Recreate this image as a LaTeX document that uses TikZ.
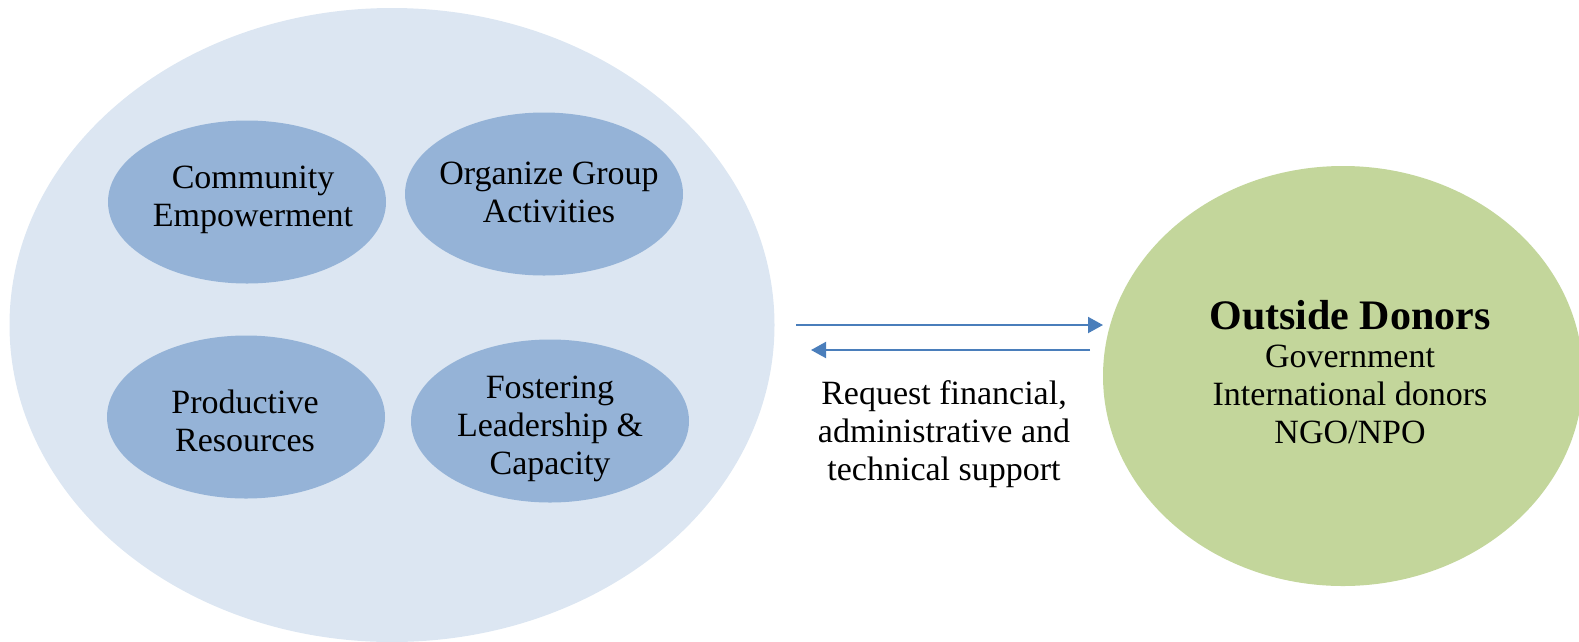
\documentclass[tikz,border=0pt]{standalone}
\usepackage{fontspec}
\setmainfont{Liberation Serif}
\usetikzlibrary{shapes.geometric,arrows.meta}
\definecolor{outerfill}{HTML}{DCE6F2}
\definecolor{innerfill}{HTML}{95B3D7}
\definecolor{donorfill}{HTML}{C3D69B}
\definecolor{arrowcol}{HTML}{4A7EBB}
\tikzset{
  bubble/.style={ellipse, fill=innerfill, draw=none, inner sep=0pt,
    minimum width=278pt, minimum height=163pt},
  txt/.style={align=center, inner sep=0pt, font=\fontsize{34}{38}\selectfont},
  flow/.style={draw=arrowcol, line width=2pt,
    -{Triangle[length=15pt,width=16pt]}},
}
\begin{document}
\begin{tikzpicture}[x=1pt,y=-1pt]
\useasboundingbox (0,0) rectangle (1579,641);
\node[ellipse, fill=outerfill, inner sep=0pt, minimum width=765pt, minimum height=634pt] (outer) at (392,325) {};
\node[bubble] (ce) at (247,202) {};
\node[bubble] (og) at (544,194) {};
\node[bubble] (pr) at (246,417) {};
\node[bubble] (fl) at (550,421) {};
\node[txt] (cet) at (253,200) {Community\\Empowerment};
\node[txt] (ogt) at (549,192) {Organize Group\\Activities};
\node[txt] (prt) at (245,421) {Productive\\Resources};
\node[txt] (flt) at (550,429) {Fostering\\Leadership \&\\Capacity};
\node[ellipse, fill=donorfill, inner sep=0pt, minimum width=480pt, minimum height=420pt] (donors) at (1343,376) {};
\node[txt] (dont) at (1350,372)
  {{\fontsize{42}{46}\selectfont\bfseries Outside Donors}\\Government\\International donors\\NGO/NPO};
\coordinate (a1s) at (796,325);
\coordinate (a1e) at (1103,325);
\coordinate (a2s) at (1090,350);
\coordinate (a2e) at (811,350);
\draw[flow] (a1s) -- (a1e);
\draw[flow] (a2s) -- (a2e);
\node[txt] (req) at (944,434)
  {Request financial,\\administrative and\\technical support};
\end{tikzpicture}
\end{document}
